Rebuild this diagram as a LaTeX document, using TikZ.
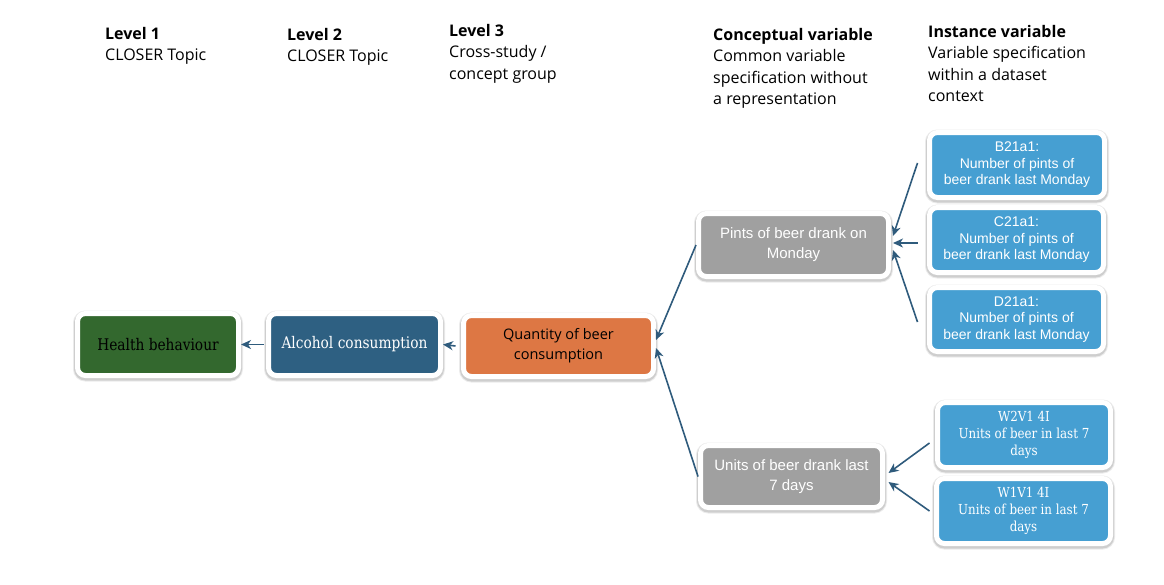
\documentclass[tikz,border=0pt]{standalone}
\usepackage{fontspec}
\setmainfont{Liberation Sans}
\newfontfamily\headfont{Open Sans}
\newfontfamily\slabfont[FakeStretch=0.86]{DejaVu Serif}
\usetikzlibrary{shadows,arrows.meta}
\definecolor{healthgreen}{HTML}{33682E}
\definecolor{alcoblue}{HTML}{2E6082}
\definecolor{beerorange}{HTML}{DD7744}
\definecolor{concgray}{HTML}{A0A0A0}
\definecolor{instblue}{HTML}{469FD2}
\definecolor{linkblue}{HTML}{2F5B7C}
\tikzset{
  box/.style={rounded corners=8pt, draw=white, line width=5pt, align=center, inner sep=0pt,
    general shadow={draw=black, fill=black, line width=9pt, opacity=0.08, shadow yshift=-1.5pt},
    general shadow={draw=black, fill=black, line width=7pt, opacity=0.12, shadow yshift=-1.5pt}},
  sanstext/.style={font=\fontsize{15}{20}\selectfont},
  slabtext/.style={font=\slabfont\fontsize{16}{17}\selectfont},
  wavetext/.style={font=\slabfont\fontsize{13.8}{17}\selectfont},
  insttext/.style={font=\fontsize{14}{16.5}\selectfont},
  head/.style={anchor=north west, align=left, inner sep=0pt, font=\headfont\fontsize{16}{21.5}\selectfont},
  link/.style={linkblue, line width=1.6pt, -{Stealth[length=10pt,width=9pt,inset=3pt]}}
}
\begin{document}
\begin{tikzpicture}[x=1pt, y=-1pt]
\useasboundingbox (0,0) rectangle (1164,584);
\node[head] (lev1) at (105,27) {\textbf{Level 1}\\CLOSER Topic};
\node[head] (lev2) at (287,28) {\textbf{Level 2}\\CLOSER Topic};
\node[head] (lev3) at (449,24) {\textbf{Level 3}\\Cross-study /\\concept group};
\node[head] (conc) at (713,28) {\textbf{Conceptual variable}\\Common variable\\specification without\\a representation};
\node[head] (inst) at (928,25) {\textbf{Instance variable}\\Variable specification\\within a dataset\\context};

\node[box, slabtext, fill=healthgreen, minimum width=161pt, minimum height=62pt] (health) at (158,344.5) {Health behaviour};
\node[box, slabtext, text=white, fill=alcoblue, minimum width=172pt, minimum height=62pt] (alcohol) at (354.5,344.5) {Alcohol consumption};
\node[box, font=\headfont\fontsize{14.5}{20}\selectfont, fill=beerorange, minimum width=190pt, minimum height=61pt] (quantity) at (558.5,346) {Quantity of beer\\consumption};
\node[box, sanstext, text=white, fill=concgray, minimum width=190pt, minimum height=63pt] (pints) at (793.5,245) {Pints of beer drank on\\Monday};
\node[box, sanstext, text=white, fill=concgray, minimum width=182pt, minimum height=62pt] (units) at (791.5,476.5) {Units of beer drank last\\7 days};
\node[box, insttext, text=white, fill=instblue, minimum width=175pt, minimum height=65pt] (b21) at (1017,165) {B21a1:\\Number of pints of\\beer drank last Monday};
\node[box, insttext, text=white, fill=instblue, minimum width=174pt, minimum height=65pt] (c21) at (1016.5,240) {C21a1:\\Number of pints of\\beer drank last Monday};
\node[box, insttext, text=white, fill=instblue, minimum width=174pt, minimum height=64pt] (d21) at (1016.5,319.5) {D21a1:\\Number of pints of\\beer drank last Monday};
\node[box, wavetext, text=white, fill=instblue, minimum width=173pt, minimum height=65pt] (w2v1) at (1024,435) {W2V1 4I\\Units of beer in last 7\\days};
\node[box, wavetext, text=white, fill=instblue, minimum width=174pt, minimum height=65pt] (w1v1) at (1023.5,511) {W1V1 4I\\Units of beer in last 7\\days};

\draw[link] ([xshift=-2.5pt]alcohol.west) -- (health.east);
\draw[link] ([xshift=-5.5pt]quantity.west) -- (alcohol.east);
\draw[link] (pints.west) -- ([yshift=6pt]quantity.east);
\draw[link] (units.west) -- ([yshift=-2pt]quantity.east);
\draw[link] ([xshift=-9.5pt, yshift=2pt]b21.west) -- ([xshift=2pt, yshift=9pt]pints.east);
\draw[link] ([xshift=-9.5pt, yshift=-3pt]c21.west) -- ([xshift=2pt, yshift=2pt]pints.east);
\draw[link] ([xshift=-9.5pt, yshift=-2.5pt]d21.west) -- ([xshift=2pt, yshift=-5pt]pints.east);
\draw[link] ([xshift=-5.5pt, yshift=-8pt]w2v1.west) -- ([xshift=3.5pt, yshift=3.5pt]units.east);
\draw[link] ([xshift=-4.5pt]w1v1.west) -- ([xshift=3.5pt, yshift=-5.5pt]units.east);
\end{tikzpicture}
\end{document}
